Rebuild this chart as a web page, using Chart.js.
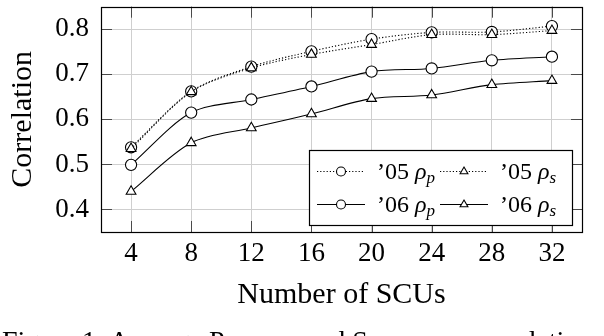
<!DOCTYPE html>
<html>
<head>
<meta charset="utf-8">
<script src="https://cdn.jsdelivr.net/npm/chart.js@4.4.1/dist/chart.umd.min.js"></script>
<style>
    html, body { margin: 0; padding: 0; background: #fff; overflow: hidden; }
    .wrap { position: relative; width: 604px; height: 336px; overflow: hidden; }
    .caption { position: absolute; left: 2px; top: 327px; font: 28px/28px 'Liberation Serif', serif; white-space: nowrap; color: #000; }
</style>
</head>
<body>
<div class="wrap">
    <canvas id="corrChart"></canvas>
    <div class="caption">Figure 1: Average Pearson and Spearman correlations</div>
</div>
<script>
// ── Data ──
var scuCounts  = [4, 8, 12, 16, 20, 24, 28, 32];
var pearson05  = [0.538, 0.662, 0.717, 0.751, 0.778, 0.793, 0.794, 0.807];
var spearman05 = [0.535, 0.661, 0.714, 0.744, 0.766, 0.788, 0.788, 0.797];
var pearson06  = [0.499, 0.615, 0.644, 0.673, 0.706, 0.713, 0.731, 0.739];
var spearman06 = [0.440, 0.548, 0.581, 0.612, 0.646, 0.654, 0.677, 0.686];
var yTicks = [0.4, 0.5, 0.6, 0.7, 0.8];
var xTicks = [4, 8, 12, 16, 20, 24, 28, 32];

var SERIF = "'Liberation Serif', serif";
var DOTS = [1.2, 2];
var TICK = 11;

function pts(ys) {
    return scuCounts.map(function(x, i) { return { x: x, y: ys[i] }; });
}

function series(label, ys, style, dotted, order) {
    return {
        label: label, data: pts(ys), order: order,
        borderColor: '#000', borderWidth: 1.1, borderDash: dotted ? DOTS : [],
        tension: 0.3, fill: false,
        pointStyle: style, pointRadius: 5.6, pointHoverRadius: 5.6,
        pointBackgroundColor: '#fff', pointBorderColor: '#000', pointBorderWidth: 1.1
    };
}

function mark(ctx, style, x, y, r) {
    ctx.save();
    ctx.setLineDash([]);
    ctx.fillStyle = '#fff'; ctx.strokeStyle = '#000'; ctx.lineWidth = 1.1;
    ctx.beginPath();
    if (style === 'circle') {
        ctx.arc(x, y, r, 0, Math.PI * 2);
    } else {
        for (var k = 0; k < 3; k++) {
            var a = -Math.PI / 2 + k * 2 * Math.PI / 3;
            var px = x + Math.cos(a) * r, py = y + Math.sin(a) * r;
            if (k === 0) ctx.moveTo(px, py); else ctx.lineTo(px, py);
        }
        ctx.closePath();
    }
    ctx.fill(); ctx.stroke();
    ctx.restore();
}

// legend entries: [x of line start, row centre, dotted?, marker, year, subscript]
var legendItems = [
    [317, 171, true,  'circle',   '\u201905 ', 'p'],
    [440, 171, true,  'triangle', '\u201905 ', 's'],
    [317, 204, false, 'circle',   '\u201906 ', 'p'],
    [440, 204, false, 'triangle', '\u201906 ', 's']
];

// ── Frame, inward ticks and legend ──
var framePlugin = {
    id: 'frame',
    beforeDatasetsDraw: function(chart) {
        var ctx = chart.ctx, a = chart.chartArea, xs = chart.scales.x, ys = chart.scales.y;
        ctx.save();
        ctx.strokeStyle = '#4a4a4a'; ctx.lineWidth = 1;
        ctx.beginPath();
        xTicks.forEach(function(v) {
            var px = Math.round(xs.getPixelForValue(v)) + 0.5;
            ctx.moveTo(px, a.bottom); ctx.lineTo(px, a.bottom - TICK);
            ctx.moveTo(px, a.top); ctx.lineTo(px, a.top + TICK);
        });
        yTicks.forEach(function(v) {
            var py = Math.round(ys.getPixelForValue(v)) + 0.5;
            ctx.moveTo(a.left, py); ctx.lineTo(a.left + TICK, py);
            ctx.moveTo(a.right, py); ctx.lineTo(a.right - TICK, py);
        });
        ctx.stroke();
        ctx.restore();
    },
    afterDatasetsDraw: function(chart) {
        var ctx = chart.ctx, a = chart.chartArea;
        ctx.save();
        // legend box
        ctx.fillStyle = '#fff';
        ctx.fillRect(309, 150, 263, 75);
        ctx.strokeStyle = '#000'; ctx.lineWidth = 1.2;
        ctx.strokeRect(309.5, 150.5, 263, 75);
        legendItems.forEach(function(it) {
            var x0 = it[0], y = it[1];
            ctx.strokeStyle = '#000'; ctx.lineWidth = 1.1;
            ctx.setLineDash(it[2] ? DOTS : []);
            ctx.beginPath(); ctx.moveTo(x0, y + 0.5); ctx.lineTo(x0 + 48, y + 0.5); ctx.stroke();
            ctx.setLineDash([]);
            mark(ctx, it[3], x0 + 24, y + 0.5, 4.5);
            var tx = x0 + 60, base = y + 8;
            ctx.fillStyle = '#000';
            ctx.textBaseline = 'alphabetic'; ctx.textAlign = 'left';
            ctx.font = '24px ' + SERIF;
            ctx.fillText(it[4], tx, base);
            tx += ctx.measureText(it[4]).width;
            ctx.font = 'italic 24px ' + SERIF;
            ctx.fillText('\u03c1', tx, base);
            tx += ctx.measureText('\u03c1').width;
            ctx.font = 'italic 17px ' + SERIF;
            ctx.fillText(it[5], tx, base + 4);
        });
        // axis box
        ctx.strokeStyle = '#000'; ctx.lineWidth = 1.2;
        ctx.strokeRect(Math.round(a.left) + 0.5, Math.round(a.top) + 0.5, Math.round(a.right - a.left), Math.round(a.bottom - a.top));
        ctx.restore();
    }
};

var ctxEl = document.getElementById('corrChart');
new Chart(ctxEl.getContext('2d'), {
    type: 'line',
    data: {
        datasets: [
            series('\u201905 \u03c1p', pearson05, 'circle', true, 3),
            series('\u201905 \u03c1s', spearman05, 'triangle', true, 2),
            series('\u201906 \u03c1p', pearson06, 'circle', false, 1),
            series('\u201906 \u03c1s', spearman06, 'triangle', false, 0)
        ]
    },
    options: {
        responsive: true, maintainAspectRatio: false, animation: false,
        layout: { padding: { top: 3, right: 22, left: 0, bottom: 0 } },
        plugins: { legend: { display: false }, tooltip: { enabled: false } },
        scales: {
            x: {
                type: 'linear', min: 2, max: 34,
                afterBuildTicks: function(s) { s.ticks = xTicks.map(function(v) { return { value: v }; }); },
                afterFit: function(s) { s.height = 104; s.paddingLeft = 0; s.paddingRight = 0; },
                grid: { color: '#cfcfcf', lineWidth: 1, drawTicks: false },
                border: { display: false },
                ticks: { color: '#000', padding: 6, maxRotation: 0, font: { family: SERIF, size: 27 }, callback: function(v) { return v; } },
                title: { display: true, text: 'Number of SCUs', color: '#000', font: { family: SERIF, size: 30 }, padding: { top: 0, bottom: 23 } }
            },
            y: {
                min: 0.35, max: 0.85,
                afterBuildTicks: function(s) { s.ticks = yTicks.map(function(v) { return { value: v }; }); },
                afterFit: function(s) { s.width = 101; s.paddingTop = 0; s.paddingBottom = 0; },
                grid: { color: '#cfcfcf', lineWidth: 1, drawTicks: false },
                border: { display: false },
                ticks: { color: '#000', padding: 12, font: { family: SERIF, size: 27 }, callback: function(v) { return v.toFixed(1); } },
                title: { display: true, text: 'Correlation', color: '#000', font: { family: SERIF, size: 30 }, padding: { top: 5, bottom: 0 } }
            }
        }
    },
    plugins: [framePlugin]
});
</script>
</body>
</html>
